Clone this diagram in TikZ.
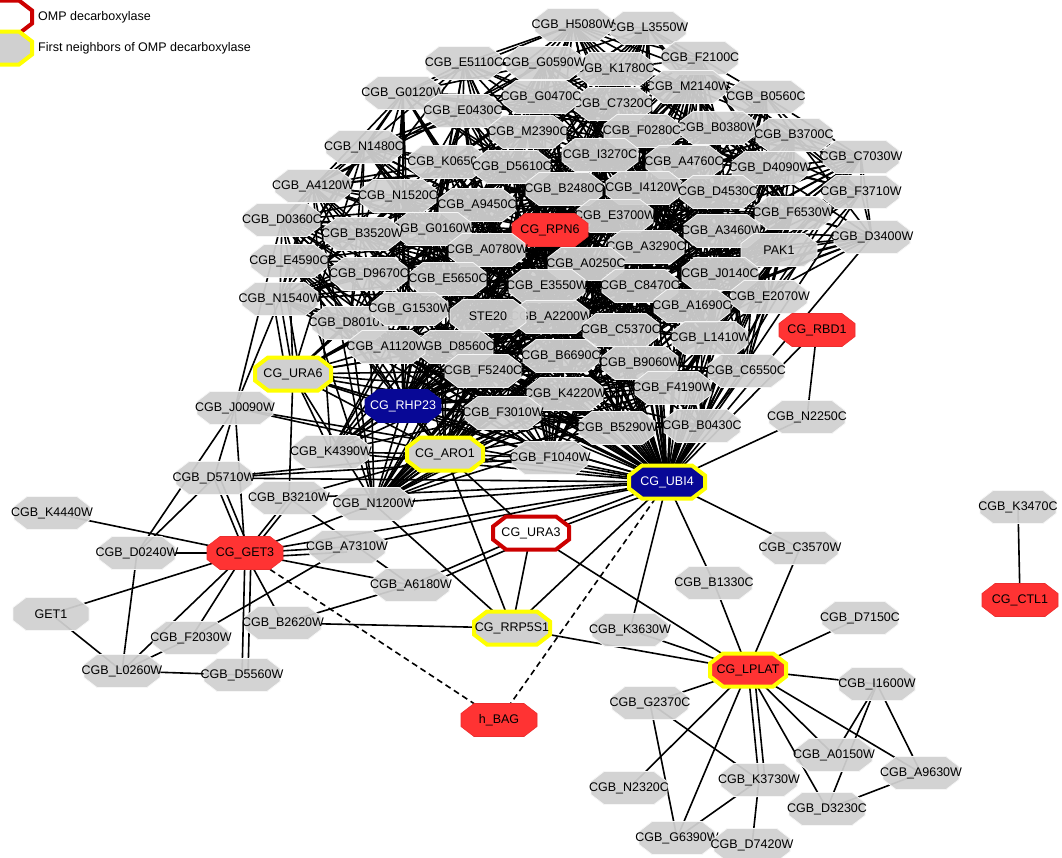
\documentclass[tikz,border=0pt]{standalone}
\usepackage{fontspec}
\setmainfont{Liberation Sans}
\usetikzlibrary{calc}
\pgfdeclarelayer{bg}
\pgfsetlayers{bg,main}
\definecolor{ngray}{RGB}{208,208,208}
\definecolor{nred}{RGB}{255,51,51}
\definecolor{nblue}{RGB}{8,8,150}
\definecolor{nyel}{RGB}{255,255,0}
\definecolor{ndred}{RGB}{204,0,0}
\tikzset{
 gn/.style={fill=ngray,fill opacity=0.94,draw=white!80!ngray,line width=0.8pt},
 rn/.style={fill=nred,draw=nred!92!black,line width=0.6pt},
 bn/.style={fill=nblue,draw=nblue,line width=0.6pt},
 byn/.style={fill=nblue,draw=nyel,line width=4pt},
 gyn/.style={fill=ngray,draw=nyel,line width=4pt},
 ryn/.style={fill=nred,draw=nyel,line width=4pt},
 wrn/.style={fill=white,draw=ndred,line width=4pt},
 lbl/.style={inner sep=0pt,minimum width=76pt,minimum height=33pt,font=\fontsize{12.5}{14}\selectfont,text=black},
 wlbl/.style={lbl,text=white},
 legtxt/.style={anchor=west,inner sep=0pt,font=\fontsize{12.5}{14}\selectfont},
 edge/.style={line width=1.6pt,black},
 dedge/.style={edge,dash pattern=on 6pt off 4pt},
}
% octagon node: [text style]{name}{x}{y}{shape style}{label}
\newcommand\nd[6][lbl]{%
 \path[#5] (#3-38,#4-6.5) -- (#3-25,#4-16.5) -- (#3+25,#4-16.5) -- (#3+38,#4-6.5)
   -- (#3+38,#4+6.5) -- (#3+25,#4+16.5) -- (#3-25,#4+16.5) -- (#3-38,#4+6.5) -- cycle;
 \node[#1] (#2) at (#3,#4) {#6};}
\def\clist{%
L3550W/648/28/gn/CGB\_L3550W,
H5080W/573/25/gn/CGB\_H5080W,
F2100C/700/58/gn/CGB\_F2100C,
E5110C/464/63/gn/CGB\_E5110C,
K1780C/615/69/gn/CGB\_K1780C,
G0590W/544/63/gn/CGB\_G0590W,
M2140W/688/87/gn/CGB\_M2140W,
G0120W/403/93/gn/CGB\_G0120W,
B0560C/766/97/gn/CGB\_B0560C,
C7320C/613/104/gn/CGB\_C7320C,
G0470C/541/97/gn/CGB\_G0470C,
E0430C/463/111/gn/CGB\_E0430C,
B0380W/718/128/gn/CGB\_B0380W,
F0280C/642/131/gn/CGB\_F0280C,
M2390C/528/132/gn/CGB\_M2390C,
B3700C/794/135/gn/CGB\_B3700C,
N1480C/364/147/gn/CGB\_N1480C,
I3270C/600/155/gn/CGB\_I3270C,
C7030W/861/157/gn/CGB\_C7030W,
K0650C/447/162/gn/CGB\_K0650C,
A4760C/684/162/gn/CGB\_A4760C,
D5610C/512/167/gn/CGB\_D5610C,
D4090W/770/168/gn/CGB\_D4090W,
A4120W/313/186/gn/CGB\_A4120W,
I4120W/644/188/gn/CGB\_I4120W,
B2480C/564/189/gn/CGB\_B2480C,
D4530C/718/192/gn/CGB\_D4530C,
F3710W/861/192/gn/CGB\_F3710W,
N1520C/398/196/gn/CGB\_N1520C,
A9450C/477/205/gn/CGB\_A9450C,
F6530W/793/213/gn/CGB\_F6530W,
E3700W/615/216/gn/CGB\_E3700W,
D0360C/282/220/gn/CGB\_D0360C,
G0160W/433/229/gn/CGB\_G0160W,
RPN6/550/230/rn/CG\_RPN6,
A3460W/722/231/gn/CGB\_A3460W,
B3520W/362/234/gn/CGB\_B3520W,
D3400W/872/237/gn/CGB\_D3400W,
A3290C/646/247/gn/CGB\_A3290C,
A0780W/487/250/gn/CGB\_A0780W,
PAK1/779/250/gn/PAK1,
E4590C/289/261/gn/CGB\_E4590C,
A0250C/586/264/gn/CGB\_A0250C,
J0140C/720/274/gn/CGB\_J0140C,
D9670C/369/274/gn/CGB\_D9670C,
E5650C/448/279/gn/CGB\_E5650C,
E3550W/547/286/gn/CGB\_E3550W,
C8470C/640/286/gn/CGB\_C8470C,
E2070W/769/297/gn/CGB\_E2070W,
N1540W/280/299/gn/CGB\_N1540W,
A1690C/692/306/gn/CGB\_A1690C,
A2200W/551/317/gn/CGB\_A2200W,
STE20/488/316/gn/STE20,
D8010W/350/323/gn/CGB\_D8010W,
G1530W/410/309/gn/CGB\_G1530W,
C5370C/621/330/gn/CGB\_C5370C,
L1410W/710/338/gn/CGB\_L1410W,
D8560C/455/347/gn/CGB\_D8560C,
A1120W/387/347/gn/CGB\_A1120W,
B6690C/561/356/gn/CGB\_B6690C,
B9060W/640/363/gn/CGB\_B9060W,
F5240C/483/371/gn/CGB\_F5240C,
C6550C/746/371/gn/CGB\_C6550C,
F4190W/673/388/gn/CGB\_F4190W,
K4220W/565/394/gn/CGB\_K4220W,
F3010W/503/413/gn/CGB\_F3010W,
B0430C/702/426/gn/CGB\_B0430C,
B5290W/617/428/gn/CGB\_B5290W%
}
\begin{document}
\begin{tikzpicture}[x=1pt,y=-1pt]
\useasboundingbox (0,0) rectangle (1062,857);
\clip (0,0) rectangle (1062,857);
\pgfmathsetseed{4711}
% ---------- legend ----------
\nd{legC}{-6}{-15}{bn}{}
\nd{legA}{-6}{17}{wrn}{}
\node[legtxt] (legAt) at (38,17) {OMP decarboxylase};
\nd{legB}{-6}{48}{gyn}{}
\node[legtxt] (legBt) at (38,48) {First neighbors of OMP decarboxylase};
% ---------- dense cluster nodes ----------
\foreach \nm/\px/\py/\sty/\lab in \clist {\nd{\nm}{\px}{\py}{\sty}{\lab}}
% ---------- other nodes ----------
\nd{RBD1}{817}{330}{rn}{CG\_RBD1}
\nd{N2250C}{807}{417}{gn}{CGB\_N2250C}
\nd{URA6}{293}{374}{gyn}{CG\_URA6}
\nd[wlbl]{RHP23}{403}{406}{bn}{CG\_RHP23}
\nd{J0090W}{235}{408}{gn}{CGB\_J0090W}
\nd{K4390W}{331}{452}{gn}{CGB\_K4390W}
\nd{ARO1}{445}{454}{gyn}{CG\_ARO1}
\nd{F1040W}{550}{458}{gn}{CGB\_F1040W}
\nd[wlbl]{UBI4}{667}{482}{byn}{CG\_UBI4}
\nd{D5710W}{214}{478}{gn}{CGB\_D5710W}
\nd{B3210W}{289}{498}{gn}{CGB\_B3210W}
\nd{N1200W}{374}{504}{gn}{CGB\_N1200W}
\nd{K3470C}{1018}{507}{gn}{CGB\_K3470C}
\nd{K4440W}{52}{513}{gn}{CGB\_K4440W}
\nd{URA3}{531}{533}{wrn}{CG\_URA3}
\nd{A7310W}{347}{547}{gn}{CGB\_A7310W}
\nd{C3570W}{800}{548}{gn}{CGB\_C3570W}
\nd{GET3}{245}{553}{rn}{CG\_GET3}
\nd{D0240W}{137}{553}{gn}{CGB\_D0240W}
\nd{B1330C}{714}{583}{gn}{CGB\_B1330C}
\nd{A6180W}{411}{585}{gn}{CGB\_A6180W}
\nd{CTL1}{1020}{600}{rn}{CG\_CTL1}
\nd{GET1}{51}{614}{gn}{GET1}
\nd{D7150C}{860}{618}{gn}{CGB\_D7150C}
\nd{B2620W}{283}{623}{gn}{CGB\_B2620W}
\nd{RRP5S1}{512}{628}{gyn}{CG\_RRP5S1}
\nd{K3630W}{630}{630}{gn}{CGB\_K3630W}
\nd{F2030W}{191}{638}{gn}{CGB\_F2030W}
\nd{LPLAT}{748}{670}{ryn}{CG\_LPLAT}
\nd{L0260W}{122}{671}{gn}{CGB\_L0260W}
\nd{D5560W}{242}{675}{gn}{CGB\_D5560W}
\nd{I1600W}{877}{684}{gn}{CGB\_I1600W}
\nd{G2370C}{650}{703}{gn}{CGB\_G2370C}
\nd{hBAG}{499}{720}{rn}{h\_BAG}
\nd{A0150W}{834}{755}{gn}{CGB\_A0150W}
\nd{A9630W}{921}{773}{gn}{CGB\_A9630W}
\nd{K3730W}{759}{780}{gn}{CGB\_K3730W}
\nd{N2320C}{629}{788}{gn}{CGB\_N2320C}
\nd{D3230C}{827}{809}{gn}{CGB\_D3230C}
\nd{G6390W}{677}{838}{gn}{CGB\_G6390W}
\nd{D7420W}{752}{845}{gn}{CGB\_D7420W}
% ---------- connectors ----------
\begin{pgfonlayer}{bg}
% dense interactions inside the cluster
\foreach \a/\xa/\ya/\sa/\la [count=\i] in \clist {
  \foreach \b/\xb/\yb/\sb/\lb [count=\j] in \clist {
    \ifnum\j>\i
      \pgfmathsetmacro\myd{veclen(\xa-\xb,\ya-\yb)}
      \pgfmathsetmacro\myp{(\myd<110)?0.95:((\myd<200)?0.6:((\myd<320)?0.2:0.04))}
      \pgfmathsetmacro\myr{rnd}
      \ifdim\myr pt<\myp pt \draw[edge] (\a.center) -- (\b.center); \fi
    \fi
  }
}
% hubs into the cluster
\foreach \a/\xa/\ya/\sa/\la in \clist {
  \foreach \h/\hp in {UBI4/0.9,RHP23/0.55,ARO1/0.4,N1200W/0.3,F1040W/0.35,K4390W/0.18,URA6/0.12} {
    \pgfmathsetmacro\myr{rnd}
    \ifdim\myr pt<\hp pt \draw[edge] (\h.center) -- (\a.center); \fi
  }
}
% individual interactions
\foreach \a/\b in {UBI4/ARO1,UBI4/RHP23,UBI4/URA6,UBI4/K4390W,UBI4/N1200W,UBI4/B3210W,
  UBI4/D5710W,UBI4/F1040W,UBI4/A7310W,UBI4/GET3,UBI4/J0090W,UBI4/RBD1,UBI4/N2250C,
  UBI4/URA3,UBI4/RRP5S1,UBI4/K3630W,UBI4/B1330C,UBI4/C3570W,RBD1/N2250C,
  RHP23/URA6,RHP23/ARO1,RHP23/K4390W,RHP23/N1200W,RHP23/F1040W,
  ARO1/K4390W,ARO1/URA6,ARO1/F1040W,ARO1/URA3,ARO1/RRP5S1,ARO1/J0090W,ARO1/B3210W,
  ARO1/D5710W,ARO1/N1200W,
  URA6/N1540W,URA6/E4590C,URA6/D8010W,URA6/G1530W,URA6/A1120W,URA6/D8560C,URA6/F5240C,
  URA6/K4390W,URA6/N1200W,URA6/B3210W,URA6/F1040W,URA6/K4220W,
  J0090W/N1540W,J0090W/D0360C,J0090W/D5710W,J0090W/D0240W,J0090W/GET3,
  D5710W/D0240W,D5710W/GET3,D5710W/F1040W,
  URA3/RRP5S1,URA3/LPLAT,URA3/A6180W,
  RRP5S1/N1200W,RRP5S1/B2620W,RRP5S1/LPLAT,
  GET3/K4440W,GET3/D0240W,GET3/GET1,GET3/F2030W,GET3/L0260W,GET3/D5560W,GET3/B2620W,
  GET3/A6180W,GET3/A7310W,GET3/B3210W,GET3/N1200W,
  GET1/L0260W,D0240W/L0260W,L0260W/D5560W,L0260W/F2030W,F2030W/A7310W,B3210W/A6180W,
  B2620W/A6180W,
  K3630W/LPLAT,B1330C/LPLAT,C3570W/LPLAT,D7150C/LPLAT,I1600W/LPLAT,G2370C/LPLAT,
  N2320C/LPLAT,G6390W/LPLAT,K3730W/LPLAT,D3230C/LPLAT,A0150W/LPLAT,A9630W/LPLAT,
  G2370C/G6390W,G2370C/K3730W,K3730W/G6390W,K3730W/D7420W,I1600W/A0150W,I1600W/D3230C,
  I1600W/A9630W,A9630W/D3230C,K3470C/CTL1}
  {\draw[edge] (\a.center) -- (\b.center);}
% doubled interactions
\foreach \a/\b/\dx/\dy in {GET3/D5560W/6/0,GET3/A7310W/0/5,GET3/B3210W/3/3,GET3/D5710W/6/0,
  URA3/UBI4/0/5,URA3/A6180W/3/5,K3730W/LPLAT/6/0,URA6/N1540W/7/0,URA6/N1540W/-7/0}
  {\draw[edge] ([shift={(\dx,\dy)}]\a.center) -- ([shift={(\dx,\dy)}]\b.center);}
% dashed interactions
\draw[dedge] (GET3.center) -- (hBAG.center);
\draw[dedge] (UBI4.center) -- (hBAG.center);
\end{pgfonlayer}
\end{tikzpicture}
\end{document}
